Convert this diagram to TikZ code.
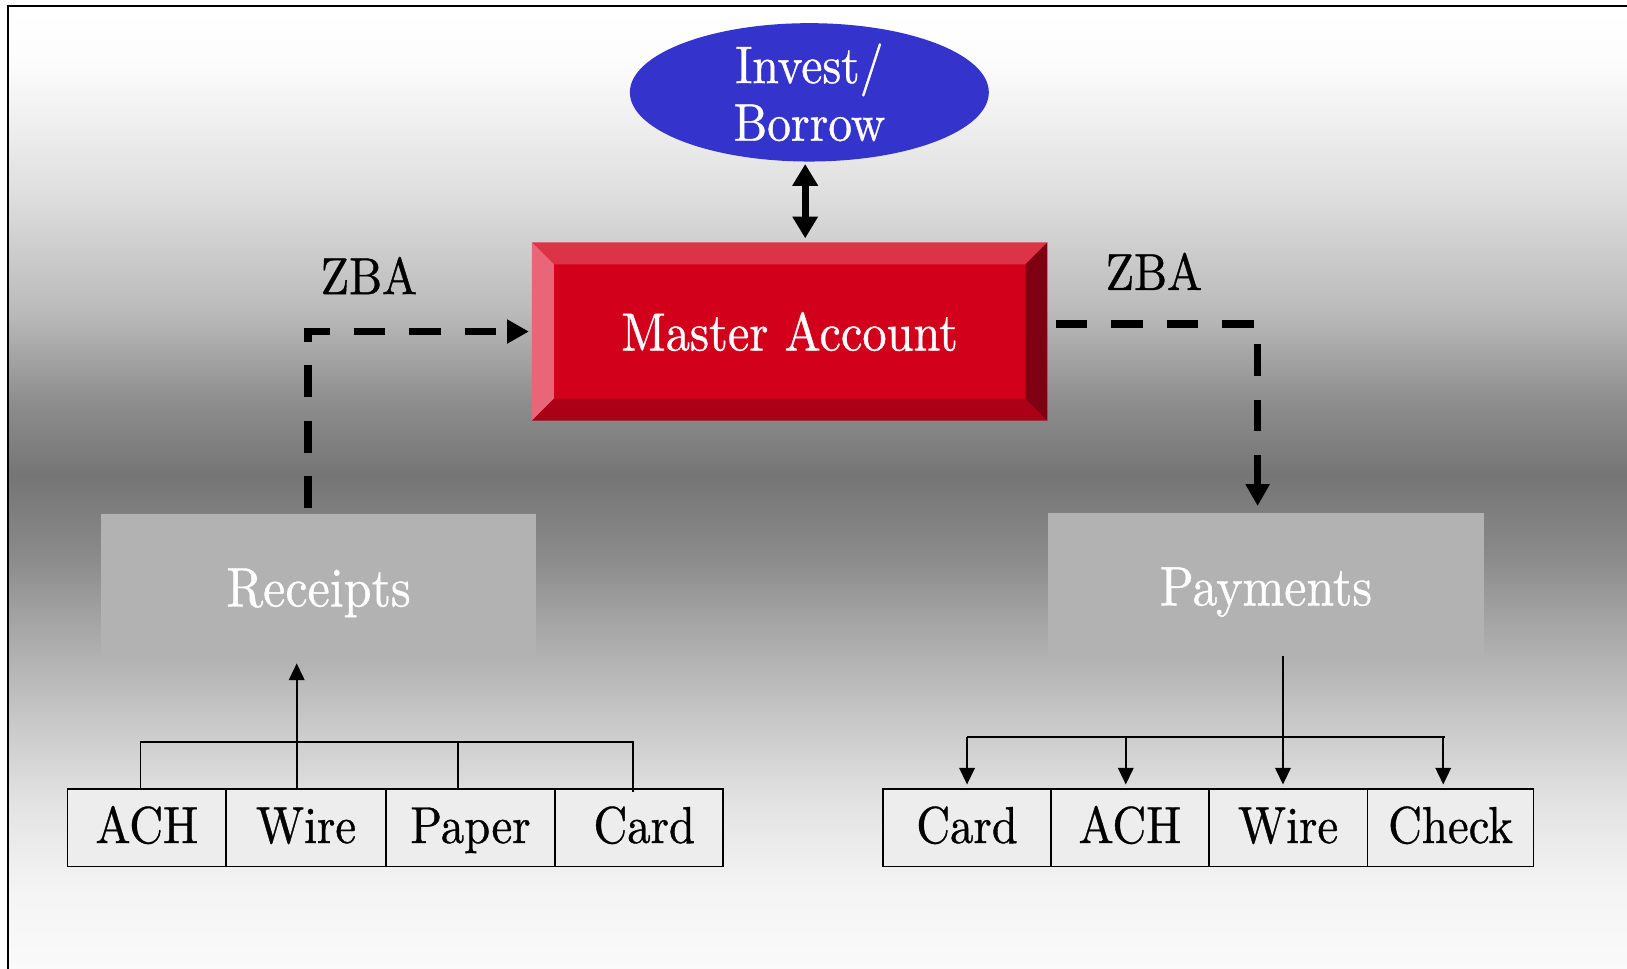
\documentclass[tikz,border=0pt]{standalone}
\usepackage{fontspec}
\setmainfont{lmroman10-regular.otf}[FakeStretch=0.9, FakeBold=0.7]
\usetikzlibrary{shapes.geometric,arrows.meta,calc,positioning}
\definecolor{investblue}{HTML}{3434CC}
\definecolor{masterface}{HTML}{D3001C}
\definecolor{beveltop}{HTML}{DD3346}
\definecolor{bevelleft}{HTML}{E86677}
\definecolor{bevelbottom}{HTML}{AB0016}
\definecolor{bevelright}{HTML}{7E0012}
\pgfdeclareverticalshading{bankbg}{100bp}{%
  color(0bp)=(white!98!black); color(25bp)=(white!98!black);
  color(28.8bp)=(white!96!black); color(33.6bp)=(white!89!black);
  color(38.4bp)=(white!77!black); color(43.2bp)=(white!64!black);
  color(46.5bp)=(white!54!black); color(50.6bp)=(white!46!black);
  color(54.3bp)=(white!55!black); color(59.1bp)=(white!73!black);
  color(65.6bp)=(white!88!black); color(72.1bp)=(white!99!black);
  color(75bp)=(white); color(100bp)=(white)}
\tikzset{
  subbox/.style={draw, line width=1pt, fill=black!7, minimum height=1.5cm, inner sep=0pt,
    outer sep=0pt, text height=20pt, text depth=3pt, font=\fontsize{28.5}{30}\selectfont},
  greybox/.style={fill=black!30, minimum width=8.4cm, minimum height=2.84cm, text=white,
    text height=21pt, text depth=0pt, font=\fontsize{30.5}{32}\selectfont},
  zba/.style={line width=4.2pt, dash pattern=on 0.61cm off 0.46cm,
    -{Triangle[length=0.42cm,width=0.44cm]}},
  feed/.style={line width=0.9pt, -{Triangle[length=0.32cm,width=0.3cm]}},
  bus/.style={line width=0.9pt},
  zbalabel/.style={font=\fontsize{28.5}{30}\selectfont}
}
\begin{document}
\begin{tikzpicture}[x=0.02cm, y=-0.02cm]
\useasboundingbox (0,0) rectangle (1568,933);
% background and frame
\shade[shading=bankbg] (8,6) rectangle (1568,933);
\draw[line width=1.2pt] (8,945) -- (8,6) -- (1580,6);

% top
\node[ellipse, fill=investblue, text=white, minimum width=6.92cm, minimum height=2.56cm,
  inner sep=0pt, align=center, font=\fontsize{29}{31.6}\selectfont] (invest) at (780,89) {Invest/\\Borrow};
\node[fill=masterface, text=white, minimum width=9.92cm, minimum height=3.42cm,
  font=\fontsize{29.5}{32}\selectfont] (master) at (761,319.5) {Master Account};
\fill[beveltop] (master.north west) -- (master.north east) -- ($(master.north east)+(-21,21)$) -- ($(master.north west)+(21,21)$) -- cycle;
\fill[bevelleft] (master.north west) -- ($(master.north west)+(21,21)$) -- ($(master.south west)+(21,-21)$) -- (master.south west) -- cycle;
\fill[bevelbottom] (master.south west) -- ($(master.south west)+(21,-21)$) -- ($(master.south east)+(-21,-21)$) -- (master.south east) -- cycle;
\fill[bevelright] (master.north east) -- (master.south east) -- ($(master.south east)+(-21,-21)$) -- ($(master.north east)+(-21,21)$) -- cycle;
\draw[line width=3.9pt, {Triangle[length=0.42cm,width=0.47cm]}-{Triangle[length=0.42cm,width=0.47cm]}]
  ($(invest.south)+(-4,2)$) -- ($(invest.south |- master.north)+(-4,-4)$);

% receipts and payments
\node[greybox] (receipts) at (307,566) {Receipts};
\node[greybox] (payments) at (1220,565) {Payments};
\node[zbalabel] (zbaleft) at (355.5,265.5) {ZBA};
\node[zbalabel] (zbaright) at (1112,261.5) {ZBA};
\draw[zba] ($(receipts.north)+(-10,-5)$) |- ($(master.west)+(-3,0)$);
\draw[zba] ($(master.east)+(8,-7)$) -| ($(payments.north)+(-8,-6)$);

% receipt types
\node[subbox, minimum width=3.06cm, anchor=west] (r1) at (65,797.5) {ACH};
\node[subbox, minimum width=3.08cm, right=0pt of r1] (r2) {Wire};
\node[subbox, minimum width=3.26cm, right=0pt of r2] (r3) {Paper};
\node[subbox, minimum width=3.24cm, right=0pt of r3] (r4) {\hspace{0.2cm}Card};
\coordinate (lbus) at (0,715);
\draw[bus] ($(r1.north)+(-6,0)$) |- ($(r4.north |- lbus)+(-6,0)$) -- ($(r4.north)+(-6,3)$);
\draw[bus] ($(r3.north)+(-12,0)$) -- ($(r3.north |- lbus)+(-12,0)$);
\draw[feed] ($(r2.north)+(-9,0)$) -- ($(r2.north |- receipts.south)+(-9,2)$);

% payment types
\node[subbox, minimum width=3.24cm, anchor=west] (p1) at (851,797.5) {Card};
\node[subbox, minimum width=3.04cm, right=0pt of p1] (p2) {ACH};
\node[subbox, minimum width=3.06cm, right=0pt of p2] (p3) {Wire};
\node[subbox, minimum width=3.2cm, right=0pt of p3] (p4) {Check};
\coordinate (pbus) at (0,710);
\draw[bus] (p1.north |- pbus) -- ($(p4.north |- pbus)+(-5,0)$);
\draw[feed] (p1.north |- pbus) -- ($(p1.north)+(0,-4)$);
\draw[feed] ($(p2.north |- pbus)+(-4,0)$) -- ($(p2.north)+(-4,-4)$);
\draw[feed] ($(p3.north |- payments.south)+(-5,-4)$) -- ($(p3.north)+(-5,-4)$);
\draw[feed] ($(p4.north |- pbus)+(-7,0)$) -- ($(p4.north)+(-7,-4)$);
\end{tikzpicture}
\end{document}
